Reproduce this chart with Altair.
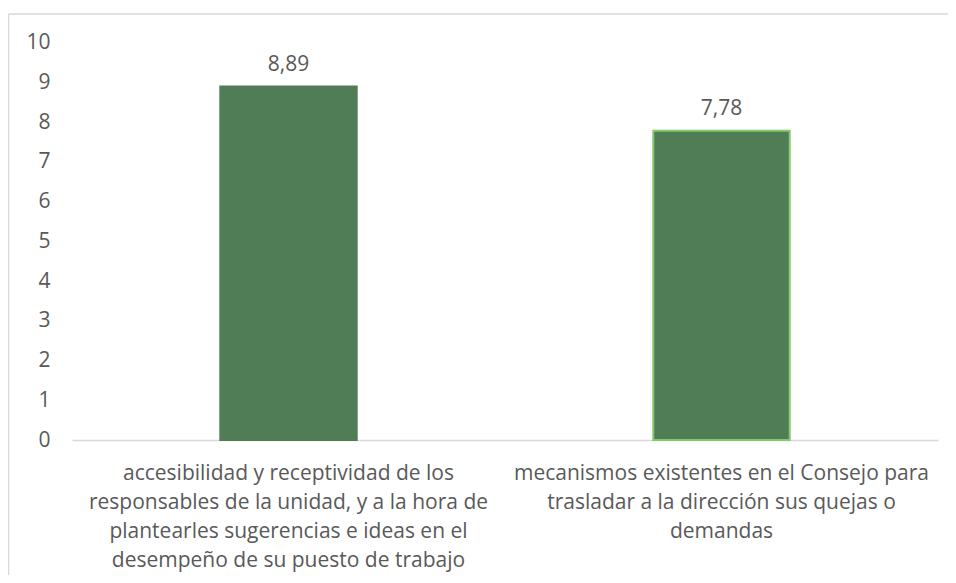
import altair as alt
import pandas as pd

categories = [
    "accesibilidad y receptividad de los|responsables de la unidad, y a la hora de|plantearles sugerencias e ideas en el|desempeño de su puesto de trabajo",
    "mecanismos existentes en el Consejo para|trasladar a la dirección sus quejas o|demandas",
]
values = [8.89, 7.78]
value_labels = ["8,89", "7,78"]
y_ticks = list(range(0, 11))

df = pd.DataFrame({"cat": categories, "val": values, "lab": value_labels})

FONT = "Open Sans"
TXT = "#595959"
GRID = "#d9d9d9"
FS = 21

x_enc = alt.X(
    "cat:N",
    sort=categories,
    title=None,
    scale=alt.Scale(paddingInner=0.685, paddingOuter=0.3425),
    axis=alt.Axis(
        labelAngle=0,
        labelExpr="split(datum.label, '|')",
        labelFont=FONT,
        labelFontSize=FS,
        labelColor=TXT,
        labelLineHeight=29,
        labelLimit=1000,
        labelPadding=22,
        ticks=False,
        tickSize=0,
        domainColor=GRID,
        domainWidth=1.3,
        grid=False,
    ),
)
y_enc = alt.Y(
    "val:Q",
    title=None,
    scale=alt.Scale(domain=[0, 10], nice=False),
    axis=alt.Axis(
        values=y_ticks,
        tickCount=11,
        labelOverlap=False,
        labelFont=FONT,
        labelFontSize=FS,
        labelColor=TXT,
        labelPadding=22,
        ticks=False,
        tickSize=0,
        domain=False,
        grid=False,
    ),
)

bars = alt.Chart(df).mark_bar(strokeWidth=2).encode(
    x=x_enc,
    y=y_enc,
    color=alt.value("#517D56"),
    stroke=alt.Stroke(
        "cat:N",
        scale=alt.Scale(domain=categories, range=["#517D56", "#84c86e"]),
        legend=None,
    ),
)

labels = alt.Chart(df).mark_text(
    font=FONT, fontSize=FS, color=TXT, baseline="alphabetic", dy=-16
).encode(x=x_enc, y=y_enc, text="lab:N")

border_df = pd.DataFrame({"k": [0]})
left_border = alt.Chart(border_df).mark_rule(color=GRID, strokeWidth=1.5).encode(
    x=alt.value(-63.5), y=alt.value(-28.5), y2=alt.value(560)
)
top_border = alt.Chart(border_df).mark_rule(color=GRID, strokeWidth=1.5).encode(
    x=alt.value(-63.5), x2=alt.value(900), y=alt.value(-28.5)
)

chart = (
    alt.layer(bars, labels, left_border, top_border)
    .properties(
        width=866,
        height=397.5,
        autosize=alt.AutoSizeParams(type="none"),
        padding={"left": 64, "top": 34.5, "right": 10, "bottom": 135},
        background="white",
    )
    .configure_view(stroke=None)
    .configure_axis(labelOverlap=False)
)

chart.save("out.html", embed_options={"renderer": "svg", "actions": False})
